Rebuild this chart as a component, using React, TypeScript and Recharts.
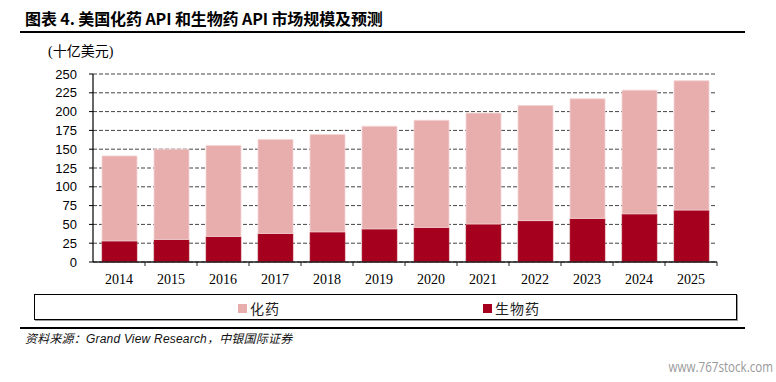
import React from 'react';
import { BarChart, Bar, XAxis, YAxis, CartesianGrid } from 'recharts';

const years = ['2014', '2015', '2016', '2017', '2018', '2019', '2020', '2021', '2022', '2023', '2024', '2025'];
const bioValues = [28, 30, 34, 38, 40, 44, 46, 50.5, 55, 58, 64, 69];
const chemValues = [113, 120, 121, 125, 129.5, 136.5, 142.5, 147.5, 153, 159, 164.5, 172];
const yTicks = [0, 25, 50, 75, 100, 125, 150, 175, 200, 225, 250];

const chemName = '化药';
const bioName = '生物药';
const chemColor = '#E8ADAD';
const bioColor = '#A5001E';

const titleText = '图表 4. 美国化药 API 和生物药 API 市场规模及预测';
const unitText = '(十亿美元)';
const sourceText = '资料来源：Grand View Research，中银国际证券';
const watermarkText = 'www.767stock.com';

const data = years.map((y, i) => ({ year: y, bio: bioValues[i], chem: chemValues[i] }));

const CHART_W = 776;
const CHART_H = 300;
const MARGIN = { top: 74, right: 59, left: 0, bottom: 0 };
const Y_W = 93;
const HALF_BAND = (CHART_W - MARGIN.right - MARGIN.left - Y_W) / years.length / 2;

const XTick = (props: any) => {
  const { x, y, payload } = props;
  return (
    <g>
      <line x1={x + HALF_BAND} x2={x + HALF_BAND} y1={y} y2={y + 4} stroke="#222" strokeWidth={1} />
      <text
        x={x}
        y={y + 22}
        textAnchor="middle"
        fontFamily="'Liberation Serif', 'Times New Roman', serif"
        fontSize={14}
        fill="#000"
      >
        {payload.value}
      </text>
    </g>
  );
};

export default function App() {
  return (
    <div
      style={{
        position: 'absolute',
        left: 0,
        top: 0,
        width: 776,
        height: 382,
        background: '#fff',
        overflow: 'hidden',
      }}
    >
      <div
        style={{
          position: 'absolute',
          left: 25,
          top: 8,
          lineHeight: '20px',
          fontFamily: "'Noto Sans CJK SC', sans-serif",
          fontWeight: 700,
          fontSize: 16,
          letterSpacing: -0.1,
          color: '#000',
          whiteSpace: 'nowrap',
        }}
      >
        {titleText}
      </div>
      <div style={{ position: 'absolute', left: 20, top: 31, width: 725, height: 1.5, background: '#000' }} />
      <div
        style={{
          position: 'absolute',
          left: 48,
          top: 42,
          lineHeight: '20px',
          fontFamily: "'Liberation Serif', 'Noto Sans CJK SC', serif",
          fontSize: 14,
          color: '#000',
          whiteSpace: 'nowrap',
        }}
      >
        {unitText}
      </div>

      <div style={{ position: 'absolute', left: 0, top: 0 }}>
        <BarChart width={CHART_W} height={CHART_H} data={data} margin={MARGIN} barSize={35}>
          <CartesianGrid vertical={false} stroke="#444" strokeDasharray="4 2" />
          <XAxis
            dataKey="year"
            height={CHART_H - 262}
            axisLine={{ stroke: '#222', strokeWidth: 1.5 }}
            tickLine={false}
            tickSize={0}
            tickMargin={0}
            tick={<XTick />}
            interval={0}
          />
          <YAxis
            width={Y_W}
            domain={[0, 250]}
            ticks={yTicks}
            interval={0}
            axisLine={{ stroke: '#000', strokeWidth: 1.2 }}
            tickLine={{ stroke: '#000' }}
            tickSize={4}
            tickMargin={12}
            tick={{ fontFamily: "'Liberation Sans', Arial, sans-serif", fontSize: 13, fill: '#000' }}
          />
          <Bar dataKey="bio" stackId="a" fill={bioColor} stroke="#B8384A" strokeWidth={0.6} isAnimationActive={false} />
          <Bar dataKey="chem" stackId="a" fill={chemColor} stroke="#F4D6D6" strokeWidth={0.8} isAnimationActive={false} />
        </BarChart>
      </div>

      <div
        style={{
          position: 'absolute',
          left: 34,
          top: 294,
          width: 703,
          height: 26,
          boxSizing: 'border-box',
          border: '1.5px solid #000',
          boxShadow: '1px 1px 0 #999',
        }}
      />
      {[
        { name: chemName, color: chemColor, left: 238 },
        { name: bioName, color: bioColor, left: 483 },
      ].map((it) => (
        <div key={it.name} style={{ position: 'absolute', left: it.left, top: 298, height: 20, display: 'flex', alignItems: 'center' }}>
          <div style={{ width: 9, height: 9, background: it.color, marginRight: 3 }} />
          <span
            style={{
              fontFamily: "'Noto Sans CJK SC', serif",
              fontSize: 14,
              letterSpacing: 1,
              lineHeight: '20px',
              color: '#222',
            }}
          >
            {it.name}
          </span>
        </div>
      ))}

      <div style={{ position: 'absolute', left: 20, top: 327, width: 725, height: 1.5, background: '#000' }} />
      <div
        style={{
          position: 'absolute',
          left: 25,
          top: 330,
          lineHeight: '18px',
          fontFamily: "'Liberation Sans', 'Noto Sans CJK SC', sans-serif",
          fontSize: 12,
          fontStyle: 'italic',
          letterSpacing: 0.2,
          color: '#111',
          whiteSpace: 'nowrap',
        }}
      >
        {sourceText}
      </div>
      <svg width={156} height={26} style={{ position: 'absolute', left: 620, top: 352 }}>
        <g transform="translate(153,20) scale(1,1.28)">
          <text x={0} y={0} textAnchor="end" fontFamily="'Open Sans', sans-serif" fontSize={11.6} fill="#999">
            {watermarkText}
          </text>
        </g>
      </svg>
    </div>
  );
}
